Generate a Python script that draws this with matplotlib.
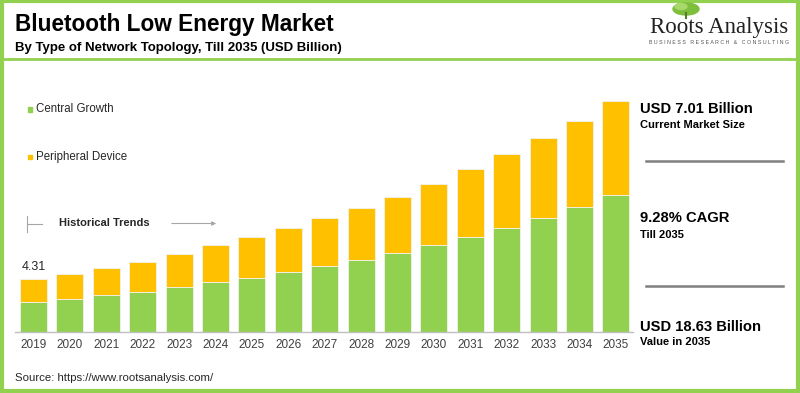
import matplotlib.pyplot as plt
from matplotlib.patches import Rectangle, Ellipse
from matplotlib.lines import Line2D

plt.rcParams["font.family"] = ["Liberation Sans", "DejaVu Sans"]

# Data (USD billion)
years = [str(y) for y in range(2019, 2036)]
central_growth = [2.44, 2.63, 2.95, 3.22, 3.60, 4.00, 4.37, 4.83, 5.31,
                  5.77, 6.34, 7.00, 7.62, 8.35, 9.15, 10.04, 11.01]
peripheral_device = [1.87, 2.04, 2.20, 2.44, 2.66, 3.01, 3.28, 3.54, 3.87,
                     4.21, 4.55, 4.92, 5.48, 5.96, 6.47, 7.00, 7.62]
first_label = "4.31"

green = "#92D050"
orange = "#FFC000"
W, H = 800, 393


def fx(px):
    return px / W


def fy(py):
    return 1 - py / H


fig = plt.figure(figsize=(8, 3.93), dpi=100)
fig.patch.set_facecolor("white")

# Bars
ax = fig.add_axes([fx(15), fy(332), fx(618), 242 / H])
x = range(len(years))
ax.bar(x, central_growth, width=0.74, color=green, edgecolor="#F2F2F2", linewidth=0.6)
ax.bar(x, peripheral_device, width=0.74, bottom=central_growth, color=orange,
       edgecolor="#F2F2F2", linewidth=0.6)
ax.set_xlim(-0.51, 16.47)
ax.set_ylim(0, 19.5)
ax.set_xticks(list(x))
ax.set_xticklabels(years, fontsize=8.5, color="#404040")
ax.tick_params(axis="x", length=0, pad=5)
ax.set_yticks([])
for s in ["top", "right", "left"]:
    ax.spines[s].set_visible(False)
ax.spines["bottom"].set_color("#BFBFBF")
ax.spines["bottom"].set_linewidth(1)
ax.text(0, central_growth[0] + peripheral_device[0] + 0.45, first_label,
        ha="center", va="bottom", fontsize=9, color="#262626")

# Frame and header separator
fig.add_artist(Rectangle((0.002, 0.004), 0.995, 0.993, transform=fig.transFigure,
                         fill=False, edgecolor=green, linewidth=3))
fig.add_artist(Line2D([0, 1], [fy(59), fy(59)], transform=fig.transFigure,
                      color=green, linewidth=2))

# Titles
fig.text(fx(15), fy(24), "Bluetooth Low Energy Market", fontsize=16.3,
         fontweight="bold", color="black", va="center")
fig.text(fx(15), fy(48), "By Type of Network Topology, Till 2035 (USD Billion)",
         fontsize=9.5, fontweight="bold", color="black", va="center")

# Logo
fig.add_artist(Ellipse((fx(686), fy(9)), fx(26), 12 / H, transform=fig.transFigure,
                       color="#7DBE3C"))
fig.add_artist(Ellipse((fx(681), fy(6.5)), fx(12), 6 / H, transform=fig.transFigure,
                       color="#A8D86A"))
fig.add_artist(Line2D([fx(686), fx(686)], [fy(13), fy(18)], transform=fig.transFigure,
                      color="#5A7A2A", linewidth=1.5))
fig.text(fx(719), fy(27), "Roots Analysis", family="Liberation Serif", fontsize=16.5,
         ha="center", va="center", color="#222222")
fig.text(fx(719), fy(43), "B U S I N E S S   R E S E A R C H   &   C O N S U L T I N G",
         fontsize=3.8, ha="center", va="center", color="#555555")

# Legend
fig.add_artist(Rectangle((fx(27.5), fy(111.5)), fx(4.5), 4.5 / H,
                         transform=fig.transFigure, color=green))
fig.text(fx(36), fy(109), "Central Growth", fontsize=8.3, color="#262626", va="center")
fig.add_artist(Rectangle((fx(27.5), fy(159)), fx(4.5), 4.5 / H,
                         transform=fig.transFigure, color=orange))
fig.text(fx(36), fy(157), "Peripheral Device", fontsize=8.3, color="#262626", va="center")

# Historical trends marker
fig.add_artist(Line2D([fx(27), fx(27)], [fy(216), fy(232)], transform=fig.transFigure,
                      color="#A6A6A6", linewidth=0.8))
fig.add_artist(Line2D([fx(27), fx(42)], [fy(223.5), fy(223.5)], transform=fig.transFigure,
                      color="#A6A6A6", linewidth=0.8))
fig.text(fx(59), fy(223), "Historical Trends", fontsize=8, fontweight="bold",
         color="#262626", va="center")
fig.add_artist(plt.Annotation("", xy=(fx(219), fy(223.5)), xytext=(fx(169), fy(223.5)),
                              xycoords="figure fraction",
                              arrowprops=dict(arrowstyle="-|>", color="#A6A6A6",
                                              lw=0.8, mutation_scale=6)))

# Right side summary
fig.text(fx(640), fy(109), "USD 7.01 Billion", fontsize=10.6, fontweight="bold",
         color="black", va="center")
fig.text(fx(640), fy(125), "Current Market Size", fontsize=8, fontweight="bold",
         color="black", va="center")
fig.add_artist(Line2D([fx(646), fx(783)], [fy(161), fy(161)], transform=fig.transFigure,
                      color="#7F7F7F", linewidth=1.8))
fig.text(fx(640), fy(218), "9.28% CAGR", fontsize=10.6, fontweight="bold",
         color="black", va="center")
fig.text(fx(640), fy(235), "Till 2035", fontsize=8, fontweight="bold",
         color="black", va="center")
fig.add_artist(Line2D([fx(646), fx(783)], [fy(286), fy(286)], transform=fig.transFigure,
                      color="#7F7F7F", linewidth=1.8))
fig.text(fx(640), fy(327), "USD 18.63 Billion", fontsize=10.6, fontweight="bold",
         color="black", va="center")
fig.text(fx(640), fy(342), "Value in 2035", fontsize=8, fontweight="bold",
         color="black", va="center")

# Source
fig.text(fx(15), fy(378), "Source: https://www.rootsanalysis.com/", fontsize=8.2,
         color="#262626", va="center")

fig.savefig("out.png", dpi=100)
